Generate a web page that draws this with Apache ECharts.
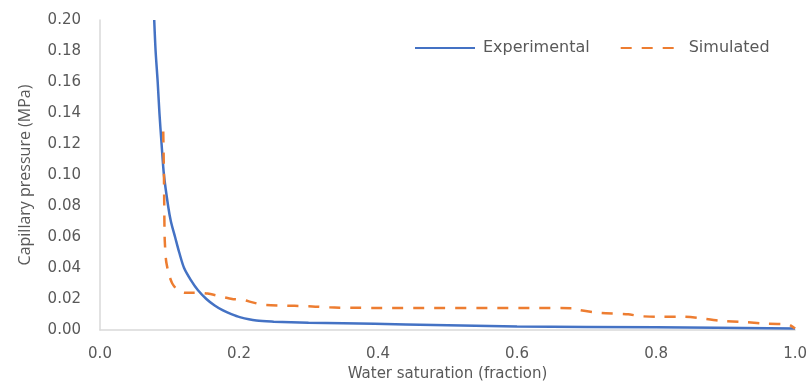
<!DOCTYPE html>
<html>
<head>
<meta charset="utf-8">
<script src="https://cdn.jsdelivr.net/npm/echarts@6/dist/echarts.min.js"></script>
<style>
html,body{margin:0;padding:0;background:#fff;}
#chart{width:810px;height:387px;}
</style>
</head>
<body>
<div id="chart"></div>
<script>
// Experimental curve: water saturation (fraction) vs capillary pressure (MPa)
const expSw = [0.078, 0.080, 0.083, 0.0855, 0.0886, 0.092, 0.098, 0.102, 0.108, 0.114, 0.121, 0.131, 0.141, 0.153, 0.165, 0.177, 0.189, 0.201, 0.225, 0.25, 0.30, 0.35, 0.44, 0.6, 0.8, 1.0];
const expPc = [0.200, 0.180, 0.160, 0.140, 0.120, 0.100, 0.080, 0.070, 0.060, 0.050, 0.040, 0.032, 0.0256, 0.020, 0.0158, 0.0126, 0.0102, 0.0083, 0.0061, 0.0054, 0.0047, 0.0043, 0.0036, 0.0022, 0.0017, 0.0009];

// Simulated curve
const simSw = [0.091, 0.092, 0.093, 0.095, 0.099, 0.104, 0.112, 0.122, 0.145, 0.155, 0.17, 0.19, 0.205, 0.218, 0.234, 0.26, 0.30, 0.33, 0.36, 0.68, 0.69, 0.72, 0.76, 0.775, 0.80, 0.84, 0.86, 0.89, 0.93, 0.96, 0.99, 1.0];
const simPc = [0.128, 0.100, 0.060, 0.045, 0.036, 0.030, 0.0255, 0.024, 0.024, 0.0235, 0.022, 0.020, 0.0195, 0.018, 0.0163, 0.0158, 0.0154, 0.0146, 0.0143, 0.0141, 0.0128, 0.011, 0.0102, 0.009, 0.0085, 0.0085, 0.0078, 0.006, 0.005, 0.004, 0.0037, 0.001];

const xTicks = [0.0, 0.2, 0.4, 0.6, 0.8, 1.0];
const yTicks = [0.00, 0.02, 0.04, 0.06, 0.08, 0.10, 0.12, 0.14, 0.16, 0.18, 0.20];

const seriesNames = ['Experimental', 'Simulated'];
const xTitle = 'Water saturation (fraction)';
const yTitle = 'Capillary pressure (MPa)';

const zip = (a, b) => a.map((v, i) => [v, b[i]]);
const textColor = '#595959';
const font = 'DejaVu Sans';

const chart = echarts.init(document.getElementById('chart'), null, {renderer: 'canvas'});
chart.setOption({
  animation: false,
  backgroundColor: '#ffffff',
  grid: {left: 100, right: 14, top: 20, bottom: 57, containLabel: false},
  legend: {
    left: 409, top: 35,
    itemWidth: 60, itemHeight: 14, itemGap: 30,
    itemStyle: {opacity: 0},
    textStyle: {color: textColor, fontFamily: font, fontSize: 16, padding: [0, 0, 0, 3]},
    data: seriesNames
  },
  xAxis: {
    type: 'value',
    min: xTicks[0], max: xTicks[xTicks.length - 1], interval: 0.2,
    name: xTitle, nameLocation: 'middle', nameGap: 35,
    nameTextStyle: {color: textColor, fontFamily: font, fontSize: 15},
    axisLine: {show: true, lineStyle: {color: '#D9D9D9', width: 1.5}},
    axisTick: {show: false},
    splitLine: {show: false},
    axisLabel: {color: textColor, fontFamily: font, fontSize: 15, margin: 17,
      formatter: v => v.toFixed(1)}
  },
  yAxis: {
    type: 'value',
    min: yTicks[0], max: yTicks[yTicks.length - 1], interval: 0.02,
    name: yTitle, nameLocation: 'middle', nameGap: 67, nameRotate: 90,
    nameTextStyle: {color: textColor, fontFamily: 'Open Sans', fontSize: 16},
    axisLine: {show: true, lineStyle: {color: '#D9D9D9', width: 1.5}},
    axisTick: {show: false},
    splitLine: {show: false},
    axisLabel: {color: textColor, fontFamily: font, fontSize: 15, margin: 19,
      formatter: v => v.toFixed(2)}
  },
  series: [
    {
      name: seriesNames[0], type: 'line',
      data: zip(expSw, expPc),
      showSymbol: false, symbol: 'none',
      smooth: 0.3,
      clip: true,
      lineStyle: {color: '#4472C4', width: 2.5},
      itemStyle: {color: '#4472C4'}
    },
    {
      name: seriesNames[1], type: 'line',
      data: zip(simSw, simPc),
      showSymbol: false, symbol: 'none',
      smooth: 0.2,
      clip: true,
      lineStyle: {color: '#ED7D31', width: 2.5, type: [11, 10]},
      itemStyle: {color: '#ED7D31'}
    }
  ]
});
</script>
</body>
</html>
